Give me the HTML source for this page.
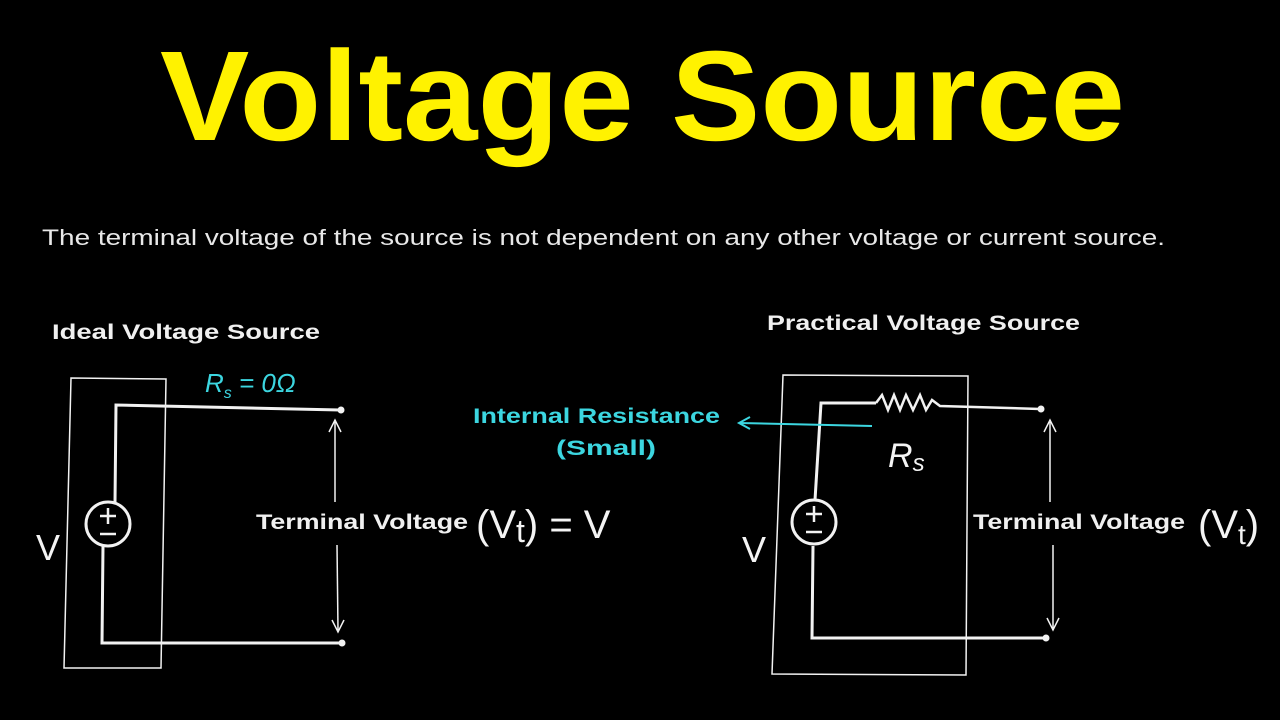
<!DOCTYPE html>
<html><head><meta charset="utf-8"><style>
html,body{margin:0;padding:0;background:#000;width:1280px;height:720px;overflow:hidden}
svg{display:block}
text{font-family:"Liberation Sans",sans-serif}
</style></head><body>
<svg width="1280" height="720" viewBox="0 0 1280 720" xmlns="http://www.w3.org/2000/svg">
<rect width="1280" height="720" fill="#000"/>
<text x="160" y="140" font-size="128" font-weight="bold" fill="#fff200" textLength="965" lengthAdjust="spacingAndGlyphs">Voltage  Source</text>
<text x="42" y="245" font-size="22" fill="#e8e8e8" textLength="1123" lengthAdjust="spacingAndGlyphs">The terminal voltage of the source is not dependent on any other voltage or current source.</text>

<g fill="#f0f0f0" font-weight="bold">
<text x="52" y="339" font-size="21" textLength="268" lengthAdjust="spacingAndGlyphs">Ideal Voltage Source</text>
<text x="767" y="330" font-size="21" textLength="313" lengthAdjust="spacingAndGlyphs">Practical Voltage Source</text>
<text x="256" y="529" font-size="21" textLength="212" lengthAdjust="spacingAndGlyphs">Terminal Voltage</text>
<text x="973" y="529" font-size="21" textLength="212" lengthAdjust="spacingAndGlyphs">Terminal Voltage</text>
</g>
<g fill="#3cd6e0" font-weight="bold">
<text x="473" y="423" font-size="21" textLength="247" lengthAdjust="spacingAndGlyphs">Internal Resistance</text>
<text x="556" y="455" font-size="21" textLength="100" lengthAdjust="spacingAndGlyphs">(Small)</text>
</g>
<text x="205" y="392" font-size="26" fill="#3cd6e0" font-style="italic">R<tspan font-size="16" dy="6">s</tspan><tspan dy="-6"> = 0Ω</tspan></text>

<g fill="#f4f4f4" font-size="40">
<text x="476" y="538">(V<tspan font-size="32" dy="4">t</tspan><tspan dy="-4">) = V</tspan></text>
<text x="1198" y="538">(V<tspan font-size="28" dy="6">t</tspan><tspan dy="-6">)</tspan></text>
<text x="36" y="560" font-size="36">V</text>
<text x="742" y="562" font-size="36">V</text>
<text x="888" y="467" font-size="34" font-style="italic">R<tspan font-size="24" dy="4">s</tspan></text>
</g>

<g stroke="#f2f2f2" fill="none" stroke-width="2">
<!-- left box -->
<polygon points="71,378 166,379 161,668 64,668" stroke-width="1.5"/>
<!-- left circuit -->
<polyline points="115,502 116,405 340,410" stroke-width="3"/>
<polyline points="103,546 102,643 342,643" stroke-width="3"/>
<circle cx="108" cy="524" r="22" stroke-width="3"/>
<line x1="335" y1="422" x2="335" y2="502" stroke-width="1.5"/>
<polyline points="329,432 335,420 341,432" stroke-width="1.5"/>
<line x1="337" y1="545" x2="338" y2="630" stroke-width="1.5"/>
<polyline points="332,620 338,632 344,620" stroke-width="1.5"/>
<!-- right box -->
<polygon points="783,375 968,376 966,675 772,674" stroke-width="1.5"/>
<polyline points="815,500 821,403 876,403" stroke-width="3"/>
<polyline points="876,403 882,395 888,410 894,395 900,410 906,395 913,410 920,395 926,410 932,400 940,406 1040,409" stroke-width="2.5"/>
<polyline points="813,546 812,638 1045,638" stroke-width="3"/>
<circle cx="814" cy="522" r="22" stroke-width="3"/>
<line x1="1050" y1="422" x2="1050" y2="502" stroke-width="1.5"/>
<polyline points="1044,432 1050,420 1056,432" stroke-width="1.5"/>
<line x1="1053" y1="545" x2="1053" y2="630" stroke-width="1.5"/>
<polyline points="1047,618 1053,630 1059,618" stroke-width="1.5"/>
</g>
<g stroke="#f2f2f2" stroke-width="2.5">
<line x1="108" y1="508" x2="108" y2="524"/><line x1="100" y1="516" x2="116" y2="516"/><line x1="100" y1="534" x2="116" y2="534"/>
<line x1="814" y1="506" x2="814" y2="522"/><line x1="806" y1="514" x2="822" y2="514"/><line x1="806" y1="532" x2="822" y2="532"/>
</g>
<g fill="#f2f2f2">
<circle cx="341" cy="410" r="3.5"/><circle cx="342" cy="643" r="3.5"/>
<circle cx="1041" cy="409" r="3.5"/><circle cx="1046" cy="638" r="3.5"/>
</g>
<g stroke="#3cd6e0" stroke-width="2" fill="none">
<line x1="740" y1="423" x2="872" y2="426"/>
<polyline points="750,417 739,423 750,429"/>
</g>
</svg>
</body></html>
